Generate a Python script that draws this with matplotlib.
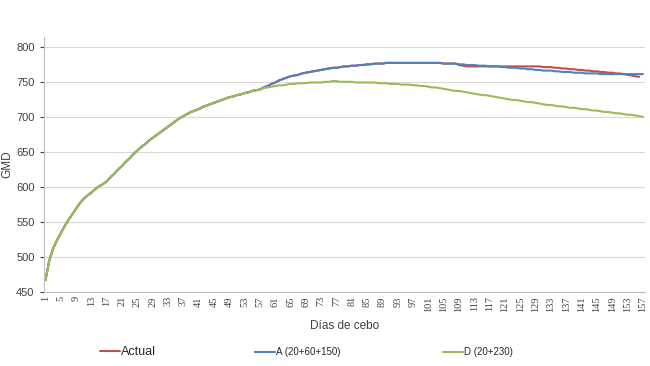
import matplotlib
matplotlib.use('Agg')
import matplotlib.pyplot as plt
import numpy as np

plt.rcParams['font.family'] = ['Liberation Sans', 'DejaVu Sans']

# days of feeding (1..157)
days = list(range(1, 158))

# D (20+230): full curve, days 1-157
gmd_d = [
    467, 495, 512, 524, 534, 544, 553, 561, 569, 577,   # 1-10
    583, 588, 592, 597, 601, 604, 608, 614, 619, 625,   # 11-20
    630, 636, 641, 647, 652, 657, 661, 666, 670, 674,   # 21-30
    678, 682, 686, 690, 694, 698, 701, 704, 707, 709,   # 31-40
    711, 714, 716, 718, 720, 722, 724, 726, 728, 729,   # 41-50
    731, 732, 734, 735, 737, 738, 739, 741, 742, 743,   # 51-60
    744, 745, 745, 746, 747, 747, 748, 748, 748, 749,   # 61-70
    749, 749, 749, 750, 750, 751, 751, 750, 750, 750,   # 71-80
    750, 749, 749, 749, 749, 749, 749, 748, 748, 748,   # 81-90
    747, 747, 747, 746, 746, 746, 745, 745, 744, 744,   # 91-100
    743, 742, 742, 741, 740, 739, 738, 737, 737, 736,   # 101-110
    735, 734, 733, 732, 731, 731, 730, 729, 728, 727,   # 111-120
    726, 725, 724, 724, 723, 722, 721, 721, 720, 719,   # 121-130
    718, 717, 717, 716, 715, 715, 714, 713, 713, 712,   # 131-140
    711, 711, 710, 709, 709, 708, 707, 707, 706, 705,   # 141-150
    705, 704, 703, 703, 702, 701, 700,                  # 151-157
]

# A (20+60+150): same as D until day 57, then its own path (days 58-157)
gmd_a_tail = [
    742, 744, 747,                                      # 58-60
    749, 752, 754, 756, 758, 759, 760, 762, 763, 764,   # 61-70
    765, 766, 767, 768, 769, 770, 770, 771, 772, 772,   # 71-80
    773, 773, 774, 774, 775, 775, 776, 776, 776, 777,   # 81-90
    777, 777, 777, 777, 777, 777, 777, 777, 777, 777,   # 91-100
    777, 777, 777, 777, 776, 776, 776, 776, 775, 775,   # 101-110
    774, 774, 774, 773, 773, 773, 772, 772, 772, 771,   # 111-120
    771, 770, 770, 770, 769, 769, 768, 768, 767, 767,   # 121-130
    766, 766, 766, 765, 765, 764, 764, 764, 763, 763,   # 131-140
    763, 762, 762, 762, 762, 761, 761, 761, 761, 761,   # 141-150
    761, 761, 761, 761, 761, 761, 761,                  # 151-157
]

# Actual: same as A until day 108, then days 109-156
gmd_actual_tail = [
    774, 773,                                           # 109-110
    772, 772, 772, 772, 772, 772, 772, 772, 772, 772,   # 111-120
    772, 772, 772, 772, 772, 772, 772, 772, 772, 772,   # 121-130
    771, 771, 771, 770, 770, 769, 769, 768, 768, 767,   # 131-140
    767, 766, 766, 765, 765, 764, 764, 763, 763, 762,   # 141-150
    762, 761, 760, 759, 758, 757,                       # 151-156
]

gmd_a = gmd_d[:57] + gmd_a_tail
gmd_actual = gmd_a[:108] + gmd_actual_tail

labels = ['Actual', 'A (20+60+150)', 'D (20+230)']
colors = ['#C0504D', '#4F81BD', '#9BBB59']

fig = plt.figure(figsize=(6.5, 3.66), dpi=100)
ax = fig.add_axes([0.067, 0.202, 0.925, 0.697])

series = [gmd_actual, gmd_a, gmd_d]
lines = []
for vals, c in zip(series, colors):
    ln, = ax.plot(days[:len(vals)], vals, color=c, lw=1.5, solid_capstyle='round')
    lines.append(ln)

ax.set_xlim(0.5, 157.5)
ax.set_ylim(450, 814)
ax.set_yticks(np.arange(450, 801, 50))
ax.set_xticks(days[::4])
ax.set_xticklabels([str(d) for d in days[::4]], rotation=90,
                   fontsize=7.5, family='Liberation Serif', color='#404040')
ax.tick_params(axis='y', labelsize=8, colors='#404040', length=3, width=0.8)
ax.tick_params(axis='x', length=0, pad=3)
for lab in ax.get_yticklabels():
    lab.set_color('#404040')

ax.grid(axis='y', color='#D9D9D9', lw=0.8)
ax.set_axisbelow(True)
for s in ['top', 'right']:
    ax.spines[s].set_visible(False)
ax.spines['left'].set_color('#BFBFBF')
ax.spines['bottom'].set_color('#BFBFBF')

ax.set_xlabel('Días de cebo', fontsize=8.5, color='#404040', labelpad=6)
ax.set_ylabel('GMD', fontsize=8.5, color='#404040', labelpad=2)

# legend entries spread out under the chart
leg_x = [100, 255, 443]
leg_fs = [9, 7, 7]
for ln, lab, x, fs in zip(lines, labels, leg_x, leg_fs):
    fig.legend([ln], [lab], loc='center left', bbox_to_anchor=(x / 650, 1 - 352 / 366),
               frameon=False, fontsize=fs, handlelength=20 / fs * 0.72,
               handletextpad=0.1, borderaxespad=0, borderpad=0, labelcolor='#262626')

fig.savefig('out.png', dpi=100)
